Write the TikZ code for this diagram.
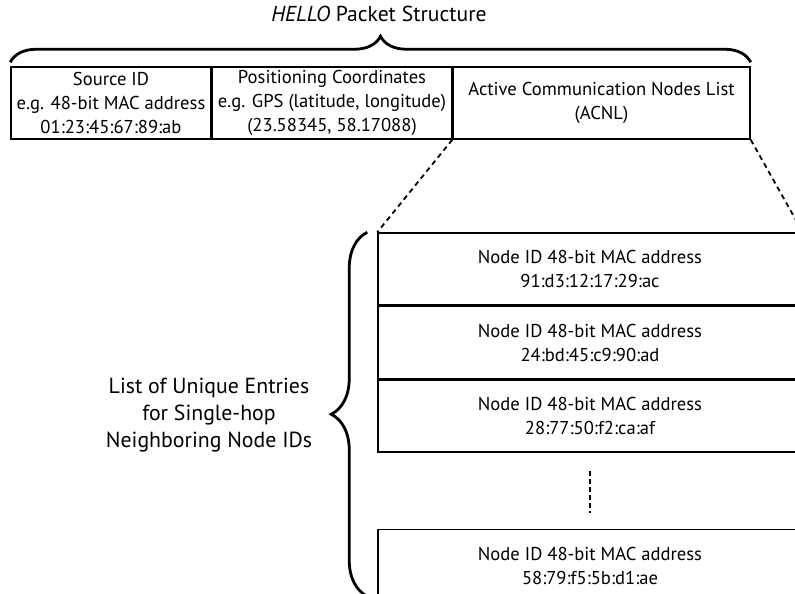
\documentclass[tikz,border=0pt]{standalone}
\usepackage{fontspec}
\setmainfont{PT Sans}
\usepackage{tikz}
\usetikzlibrary{positioning, decorations.pathreplacing}

\tikzset{
    field/.style={draw, line width=1.5pt, minimum height=72pt, inner sep=0pt, align=center, font=\fontsize{18.6}{24}\selectfont},
    entry/.style={field, minimum width=424pt},
    bigbrace/.style={decorate, decoration={brace, amplitude=#1}, line width=2.8pt},
    zoomline/.style={line width=1.8pt, dash pattern=on 5pt off 4pt},
}

\begin{document}
\begin{tikzpicture}[x=1pt, y=-1pt]
    \useasboundingbox (0,0) rectangle (795,594);
    \clip (0,0) rectangle (795,594);

    % Packet fields
    \node[field, minimum width=200pt] (src) at (111,103) {Source ID\\e.g. 48-bit MAC address\\01:23:45:67:89:ab};
    \node[field, minimum width=239pt, right=0pt of src] (pos) {Positioning Coordinates\\e.g. GPS (latitude, longitude)\\(23.58345, 58.17088)};
    \node[field, minimum width=297pt, right=0pt of pos] (acnl) {Active Communication Nodes List\\(ACNL)};

    % Brace and title over the packet
    \draw[bigbrace=26pt] ([yshift=4pt]src.north west) -- ([yshift=4pt]acnl.north east);
    \node[font=\fontsize{21.6}{24}\selectfont] (title) at (379,14) {\textit{HELLO} Packet Structure};

    % ACNL entries
    \node[entry] (e1) at (590,269) {Node ID 48-bit MAC address\\91:d3:12:17:29:ac};
    \node[entry, below=0pt of e1] (e2) {Node ID 48-bit MAC address\\24:bd:45:c9:90:ad};
    \node[entry, below=0pt of e2] (e3) {Node ID 48-bit MAC address\\28:77:50:f2:ca:af};
    \node[entry, below=76pt of e3] (e4) {Node ID 48-bit MAC address\\58:79:f5:5b:d1:ae};

    \draw[line width=2.8pt, dash pattern=on 5pt off 3pt] ([yshift=-18pt]e3.south) -- ([yshift=16pt]e4.north);

    % Zoom from ACNL field to the entries
    \draw[zoomline] (acnl.south west) -- (e1.north west);
    \draw[zoomline] (acnl.south east) -- (e1.north east);

    % Brace on the left of the entries
    \draw[bigbrace=36pt] ([xshift=-10pt, yshift=6pt]e4.south west) -- ([xshift=-10pt]e1.north west);
    \node[font=\fontsize{21.8}{27}\selectfont, align=center] (lbl) at (209,415) {List of Unique Entries\\for Single-hop\\Neighboring Node IDs};
\end{tikzpicture}
\end{document}
